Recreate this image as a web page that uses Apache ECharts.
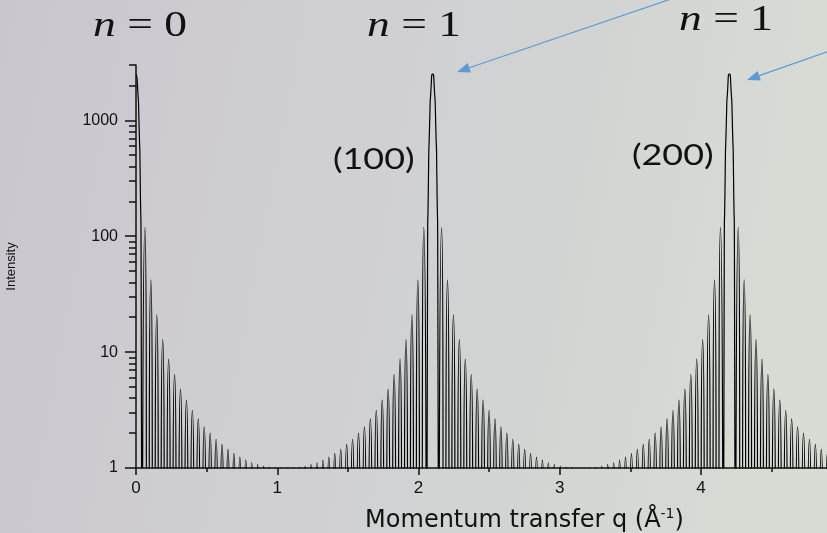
<!DOCTYPE html>
<html>
<head>
<meta charset="utf-8">
<script src="https://cdn.jsdelivr.net/npm/echarts@6/dist/echarts.min.js"></script>
<style>html,body{margin:0;padding:0;}#chart{width:827px;height:533px;}</style>
</head>
<body>
<div id="chart"></div>
<script>
// ---- values ----
const braggPeakQ = [0, 2.1, 4.2];                 // q of (000), (100), (200) in Å^-1
const braggPeakIntensity = [2500, 2500, 2500];    // main maxima
const fringeSpacing = 0.042;                      // distance between adjacent zeros (Å^-1)
const peakProfileOffset = [0.010, 0.020, 0.030, 0.036];   // offsets from a main peak
const peakProfileIntensity = [2060, 1110, 300, 65];      // intensity at those offsets
const sideMaxima = [119, 42, 21, 12.8, 8.7, 6.4, 4.8, 3.85, 3.15, 2.65, 2.27, 2.0,
                    1.77, 1.6, 1.45, 1.33, 1.24, 1.17, 1.11, 1.07, 1.04, 1.02, 1.01, 1.0];
const zeroIntensity = 0.05;                       // zeros of the curve (below the log floor)
const xTickValues = [0, 1, 2, 3, 4, 5];
const yTickValues = [1, 10, 100, 1000];
const yMinorTickValues = [2, 3, 4, 5, 6, 7, 8, 9, 20, 30, 40, 50, 60, 70, 80, 90,
                          200, 300, 400, 500, 600, 700, 800, 900, 2000, 3000];
const topLabels = ['n = 0', 'n = 1', 'n = 1'];
const peakLabels = ['(100)', '(200)'];
const xTitle = 'Momentum transfer q (Å';
const yTitle = 'Intensity';

// ---- build the curve points from the read values ----
const curve = [];
function push(q, v) {
  if (curve.length && Math.abs(curve[curve.length - 1][0] - q) < 1e-9) return;
  curve.push([q, v]);
}
braggPeakQ.forEach(function (c, p) {
  const s = fringeSpacing;
  if (c > 0) {
    for (let k = sideMaxima.length - 1; k >= 0; k--) {
      push(c - (k + 2) * s, zeroIntensity);
      push(c - (k + 1.5) * s, sideMaxima[k]);
    }
    push(c - s, zeroIntensity);
    for (let i = peakProfileOffset.length - 1; i >= 0; i--) push(c - peakProfileOffset[i], peakProfileIntensity[i]);
  }
  push(c, braggPeakIntensity[p]);
  for (let i = 0; i < peakProfileOffset.length; i++) push(c + peakProfileOffset[i], peakProfileIntensity[i]);
  push(c + s, zeroIntensity);
  for (let k = 0; k < sideMaxima.length; k++) {
    push(c + (k + 1.5) * s, sideMaxima[k]);
    push(c + (k + 2) * s, zeroIntensity);
  }
});

// ---- arrows (annotation styling) ----
function arrow(x1, y1, x2, y2) {
  const dx = x2 - x1, dy = y2 - y1, L = Math.sqrt(dx * dx + dy * dy);
  const ux = dx / L, uy = dy / L, hl = 13, hw = 5;
  const bx = x2 - ux * hl, by = y2 - uy * hl;
  return [
    { type: 'line', silent: true, shape: { x1: x1, y1: y1, x2: bx, y2: by },
      style: { stroke: '#5b9bd5', lineWidth: 1.2 } },
    { type: 'polygon', silent: true,
      shape: { points: [[x2, y2], [bx - uy * hw, by + ux * hw], [bx + uy * hw, by - ux * hw]] },
      style: { fill: '#5b9bd5' } }
  ];
}

function topText(txt, x, y) {
  return {
    type: 'text', x: x, y: y, scaleX: 1.3, silent: true,
    style: {
      text: '{i|' + txt.charAt(0) + '}{r|' + txt.slice(1) + '}',
      align: 'left', verticalAlign: 'middle',
      rich: {
        i: { fontFamily: 'Liberation Serif', fontStyle: 'italic', fontSize: 35, fill: '#111' },
        r: { fontFamily: 'Liberation Serif', fontSize: 35, fill: '#111' }
      }
    }
  };
}
function peakText(txt, x, y) {
  return {
    type: 'text', x: x, y: y, scaleX: 1.28, silent: true,
    style: { text: txt, align: 'left', verticalAlign: 'middle',
      fontFamily: 'Lato', fontSize: 28, fill: '#111' }
  };
}

const graphics = [].concat(
  arrow(674, -2, 457, 72),
  arrow(832, 50, 747, 80),
  [topText(topLabels[0], 93, 27), topText(topLabels[1], 367, 27), topText(topLabels[2], 679, 21),
   peakText(peakLabels[0], 333, 160), peakText(peakLabels[1], 632, 156)]
);

const chart = echarts.init(document.getElementById('chart'), null, { renderer: 'canvas' });
chart.setOption({
  animation: false,
  backgroundColor: {
    type: 'linear', x: 0, y: 0, x2: 1, y2: 0.3,
    colorStops: [
      { offset: 0, color: '#c9c6ce' },
      { offset: 0.35, color: '#cfced2' },
      { offset: 0.7, color: '#d2d4d3' },
      { offset: 1, color: '#d8dcd4' }
    ]
  },
  grid: { left: 136, top: 65, width: 777, height: 403, containLabel: false, outerBoundsMode: 'none' },
  xAxis: {
    type: 'value', min: 0, max: 5.5, interval: 1,
    name: '{a|' + xTitle + '}{s|-1}{a|)}',
    nameLocation: 'middle', nameGap: 39,
    nameTextStyle: {
      rich: {
        a: { fontFamily: 'DejaVu Sans', fontSize: 24, color: '#111', lineHeight: 26, verticalAlign: 'bottom' },
        s: { fontFamily: 'DejaVu Sans', fontSize: 14, color: '#111', verticalAlign: 'top', lineHeight: 26 }
      }
    },
    axisLine: { show: true, onZero: false, lineStyle: { color: '#111', width: 1.5 } },
    axisTick: { show: true, inside: false, length: 7, lineStyle: { color: '#111', width: 1.5 } },
    minorTick: { show: true, splitNumber: 2, length: 4, lineStyle: { color: '#111', width: 1.5 } },
    splitLine: { show: false }, minorSplitLine: { show: false },
    axisLabel: {
      show: true, margin: 12, color: '#111', fontFamily: 'Liberation Sans', fontSize: 17,
      customValues: xTickValues
    }
  },
  yAxis: [{
    type: 'log', logBase: 10, min: 1, max: 3000, position: 'left',
    name: yTitle, nameLocation: 'middle', nameGap: 118, nameRotate: 90,
    nameTextStyle: { fontFamily: 'Liberation Sans', fontSize: 13, color: '#111' },
    axisLine: { show: true, lineStyle: { color: '#111', width: 1.5 } },
    axisTick: { show: true, inside: false, length: 11, customValues: yTickValues,
      lineStyle: { color: '#111', width: 1.5 } },
    axisLabel: { show: true, margin: 18, color: '#111', fontFamily: 'Liberation Sans', fontSize: 16,
      customValues: yTickValues, formatter: function (v) { return String(Math.round(v)); } },
    splitLine: { show: false }, minorTick: { show: false }
  }, {
    type: 'log', logBase: 10, min: 1, max: 3000, position: 'left', offset: 0,
    axisLine: { show: false },
    axisTick: { show: true, inside: false, length: 7, customValues: yMinorTickValues,
      lineStyle: { color: '#111', width: 1.5 } },
    axisLabel: { show: false },
    splitLine: { show: false }
  }],
  series: [{
    type: 'line', data: curve, yAxisIndex: 0,
    showSymbol: false, symbol: 'none', smooth: 0.9, clip: true,
    lineStyle: { color: '#000', width: 1.2 },
    sampling: null, silent: true
  }],
  graphic: graphics
});
</script>
</body>
</html>
